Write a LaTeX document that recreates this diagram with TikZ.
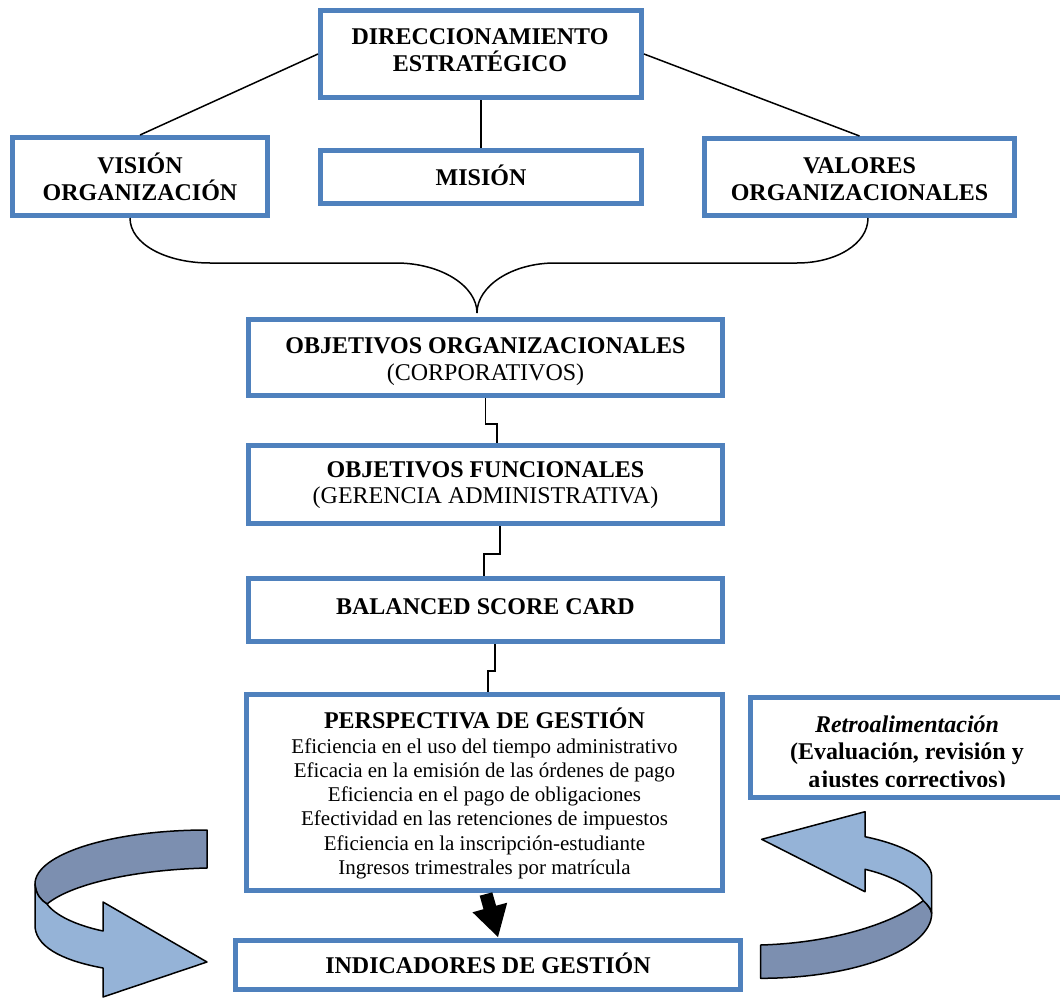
\documentclass[tikz,border=0pt]{standalone}
\usepackage{fontspec}
\setmainfont{Liberation Serif}
\usetikzlibrary{calc}
\definecolor{boxblue}{RGB}{79,129,189}
\definecolor{arrlight}{RGB}{149,179,215}
\definecolor{arrdark}{RGB}{124,143,176}
\tikzset{
  box/.style={draw=boxblue, fill=white, line width=4.6pt, inner sep=0pt},
  conn/.style={draw=black, line width=1.5pt},
  big/.style={font=\fontsize{24}{27}\selectfont, align=center, anchor=base, inner sep=0pt},
  small/.style={font=\fontsize{21}{24.3}\selectfont, align=center, anchor=base, inner sep=0pt},
  curved/.style={draw=black, line width=1.5pt, line join=round},
}
\begin{document}
\begin{tikzpicture}[x=1pt,y=-1pt]
\useasboundingbox (0,0) rectangle (1060,998);
% ---- box nodes (no text) ----
\node[box, minimum width=321.4pt, minimum height=87.4pt] (dir) at (481,54) {};
\node[box, minimum width=255.4pt, minimum height=78.4pt] (vis) at (140,176.5) {};
\node[box, minimum width=321.4pt, minimum height=53.4pt] (mis) at (481,177) {};
\node[box, minimum width=310.4pt, minimum height=77.4pt] (val) at (859.5,177) {};
\node[box, minimum width=474.4pt, minimum height=76.4pt] (oo) at (485.5,357.5) {};
\node[box, minimum width=474.4pt, minimum height=78.4pt] (of) at (485.5,484.5) {};
\node[box, minimum width=474.4pt, minimum height=63.4pt] (bsc) at (485.5,610) {};
\node[box, minimum width=476.4pt, minimum height=196.4pt] (per) at (484.5,792.5) {};
\node[box, minimum width=505.4pt, minimum height=49.4pt] (ind) at (488,965) {};
\node[box, minimum width=313.4pt, minimum height=100.4pt] (ret) at (907,747.5) {};
% ---- connectors ----
\draw[conn] (dir.west) -- (vis.north);
\draw[conn] (dir.east) -- (val.north);
\draw[conn] (dir.south) -- (mis.north);
\coordinate (bl) at ($(vis.south)+(-10,0)$);
\coordinate (br) at ($(val.south)+(8.5,0)$);
\coordinate (bt) at ($(oo.north)+(-8.5,-4)$);
\draw[conn] (bl) .. controls ($(bl)+(0,26)$) and (166,263) .. (210,263) -- (396,263)
  .. controls (441,263) and ($(bt)+(0,-27)$) .. (bt)
  .. controls ($(bt)+(0,-27)$) and (512,263) .. (555,263) -- (797,263)
  .. controls (836,263) and ($(br)+(0,26)$) .. (br);
\draw[conn] (oo.south) -- ++(0,26) -| ($(of.north)+(11.5,0)$);
\draw[conn] ($(of.south)+(14.5,0)$) -- ++(0,28) -| ($(bsc.north)+(-1.5,0)$);
\draw[conn] ($(bsc.south)+(9.5,0)$) -- ++(0,27) -| ($(per.north)+(3.5,0)$);
% ---- texts (anchor base = last line) ----
\node[big, font=\fontsize{24}{28}\selectfont\bfseries] (tdir) at (480,72) {DIRECCIONAMIENTO\\ESTRATÉGICO};
\node[big, font=\fontsize{24}{27}\selectfont\bfseries] (tvis) at (140,200) {VISIÓN\\ORGANIZACIÓN};
\node[big, font=\fontsize{24}{27}\selectfont\bfseries] (tmis) at (481,185) {MISIÓN};
\node[big, font=\fontsize{24}{27}\selectfont\bfseries] (tval) at (859.5,200) {VALORES\\ORGANIZACIONALES};
\node[big] (too) at (485.5,380) {\textbf{OBJETIVOS ORGANIZACIONALES}\\(CORPORATIVOS)};
\node[big, font=\fontsize{24}{26.5}\selectfont] (tof) at (485.5,503.5) {\textbf{OBJETIVOS FUNCIONALES}\\(GERENCIA ADMINISTRATIVA)};
\node[big, font=\fontsize{24}{27}\selectfont\bfseries] (tbsc) at (485.5,614) {BALANCED SCORE CARD};
\node[big, font=\fontsize{24}{27}\selectfont\bfseries] (tper) at (484.5,728) {PERSPECTIVA DE GESTIÓN};
\node[small] (tlist) at (484.5,874.5) {Eficiencia en el uso del tiempo administrativo\\
Eficacia en la emisión de las órdenes de pago\\
Eficiencia en el pago de obligaciones\\
Efectividad en las retenciones de impuestos\\
Eficiencia en la inscripción-estudiante\\
Ingresos trimestrales por matrícula};
\node[big, font=\fontsize{24}{27}\selectfont\bfseries] (tind) at (488,973) {INDICADORES DE GESTIÓN};
\begin{scope}
\clip (740,690) rectangle (1060,786);
\node[big, font=\fontsize{24}{27.5}\selectfont\bfseries] (tret) at (907,787) {\textit{Retroalimentación}\\(Evaluación, revisión y\\ajustes correctivos)};
\end{scope}
% ---- black block arrow ----
\fill[black] (479.7,895.7) -- (492.3,892.3) -- (496.1,905.7) -- (507.2,902.7) -- (498,937) -- (472.5,912.3) -- (483.5,909.2) -- cycle;
% ---- left curved arrow ----
\filldraw[curved, fill=arrdark] (207,830) .. controls (112,830) and (35,854) .. (35,884)
  .. controls (36,895) and (41,900) .. (47,904)
  .. controls (70,885) and (130,870) .. (207,868) -- cycle;
\filldraw[curved, fill=arrlight] (35,884) -- (35,927) .. controls (37,950) and (70,962) .. (103,968)
  -- (103,997) -- (207,962) -- (103,902) -- (103,931)
  .. controls (75,925) and (55,915) .. (47,904)
  .. controls (41,900) and (36,895) .. (35,884) -- cycle;
% ---- right curved arrow ----
\filldraw[curved, fill=arrdark] (760.7,945) .. controls (830,943) and (890,925) .. (923.3,900.7)
  .. controls (928,905) and (931,909) .. (931.7,913.3)
  .. controls (931.7,949) and (855,978.3) .. (760.7,978.3) -- cycle;
\filldraw[curved, fill=arrlight] (931.7,913.3) -- (931.7,876.7)
  .. controls (931.7,860) and (905,845) .. (865,836.7)
  -- (865,811.7) -- (761.7,839.3) -- (865,891.7) -- (865,869.3)
  .. controls (890,875) and (915,888) .. (923.3,900.7)
  .. controls (928,905) and (931,909) .. (931.7,913.3) -- cycle;
\end{tikzpicture}
\end{document}
